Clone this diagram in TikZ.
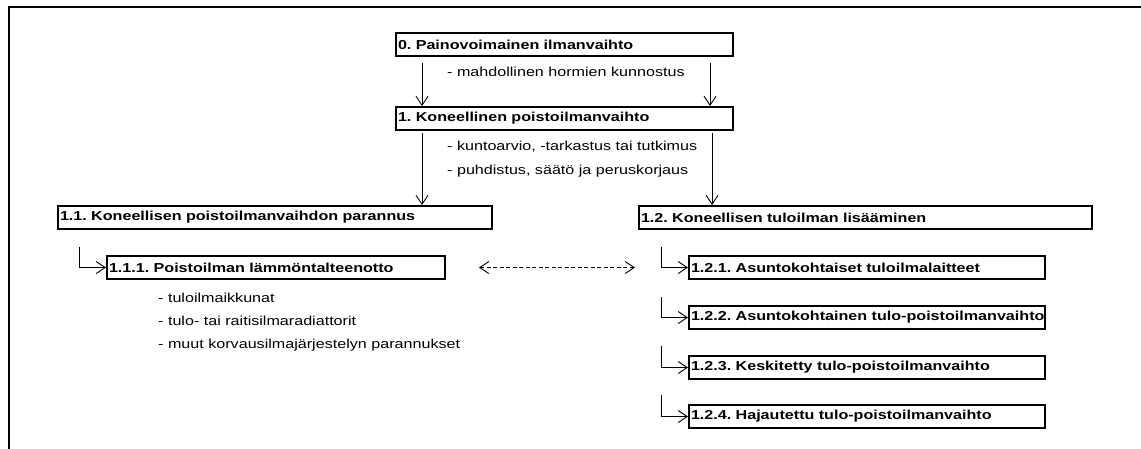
\documentclass[tikz,border=0pt]{standalone}
\usepackage{fontspec}
\usetikzlibrary{arrows.meta}
\newfontfamily\diafont{Liberation Sans}[FakeStretch=1.24]
\frenchspacing
\tikzset{
  pbox/.style={draw, line width=2pt, rectangle, anchor=north west,
    inner xsep=2pt, inner ysep=0pt, minimum height=23pt, align=left,
    font=\diafont\bfseries\fontsize{13}{15}\selectfont},
  note/.style={anchor=base west, inner sep=0pt,
    font=\diafont\fontsize{13}{15}\selectfont},
  flow/.style={line width=0.9pt, -{Straight Barb[length=9pt,width=12pt]}},
}
\begin{document}
\begin{tikzpicture}[x=1pt,y=-1pt]
      \useasboundingbox (0,0) rectangle (1141,448);
      \draw[line width=2pt] (8.5,449) -- (8.5,7) -- (1142,7);
      % boxes
      \node[pbox, text width=333pt] (p0) at (395,32) {0. Painovoimainen ilmanvaihto};
      \node[pbox, text width=333pt] (p1) at (395,106) {1. Koneellinen poistoilmanvaihto};
      \node[pbox, text width=430pt] (p11) at (57,205) {1.1. Koneellisen poistoilmanvaihdon parannus};
      \node[pbox, text width=449pt] (p12) at (638,205) {1.2. Koneellisen tuloilman lisääminen};
      \node[pbox, text width=334pt] (p111) at (106,255) {1.1.1. Poistoilman lämmöntalteenotto};
      \node[pbox, text width=352pt] (p121) at (688,255) {1.2.1. Asuntokohtaiset tuloilmalaitteet};
      \node[pbox, text width=352pt] (p122) at (688,305) {\mbox{1.2.2. Asuntokohtainen tulo-poistoilmanvaihto}};
      \node[pbox, text width=352pt] (p123) at (688,355) {1.2.3. Keskitetty tulo-poistoilmanvaihto};
      \node[pbox, text width=352pt] (p124) at (688,404) {1.2.4. Hajautettu tulo-poistoilmanvaihto};
      % notes
      \node[note] (n0) at (447,76.7) {- mahdollinen hormien kunnostus};
      \node[note] (n1a) at (447,150) {- kuntoarvio, -tarkastus tai tutkimus};
      \node[note] (n1b) at (447,174) {- puhdistus, säätö ja peruskorjaus};
      \node[note] (n11a) at (158,302) {- tuloilmaikkunat};
      \node[note] (n11b) at (158,325) {- tulo- tai raitisilmaradiattorit};
      \node[note] (n11c) at (158,348) {- muut korvausilmajärjestelyn parannukset};
      % start points
      \coordinate (a0l) at (422,63);
      \coordinate (a0r) at (710,63);
      \coordinate (a1l) at (422,133);
      \coordinate (a1r) at (712,133);
      \coordinate (e111) at (79,247);
      \coordinate (e121) at (661,247);
      \coordinate (e122) at (661,297);
      \coordinate (e123) at (661,346);
      \coordinate (e124) at (661,395);
      \begin{scope}[flow]
        \draw (a0l) -- (a0l |- p1.north);
        \draw (a0r) -- (a0r |- p1.north);
        \draw (a1l) -- (a1l |- p11.north);
        \draw (a1r) -- (a1r |- p12.north);
        \draw (e111) |- (p111.west);
        \draw (e121) |- (p121.west);
        \draw (e122) |- (p122.west);
        \draw (e123) |- (p123.west);
        \draw (e124) |- (p124.west);
        \draw[{Straight Barb[length=9pt,width=12pt]}-{Straight Barb[length=9pt,width=12pt]},
          dash pattern=on 4pt off 2.5pt]
          ([xshift=33pt]p111.east) -- ([xshift=-53pt]p121.west);
      \end{scope}
    \end{tikzpicture}
\end{document}
